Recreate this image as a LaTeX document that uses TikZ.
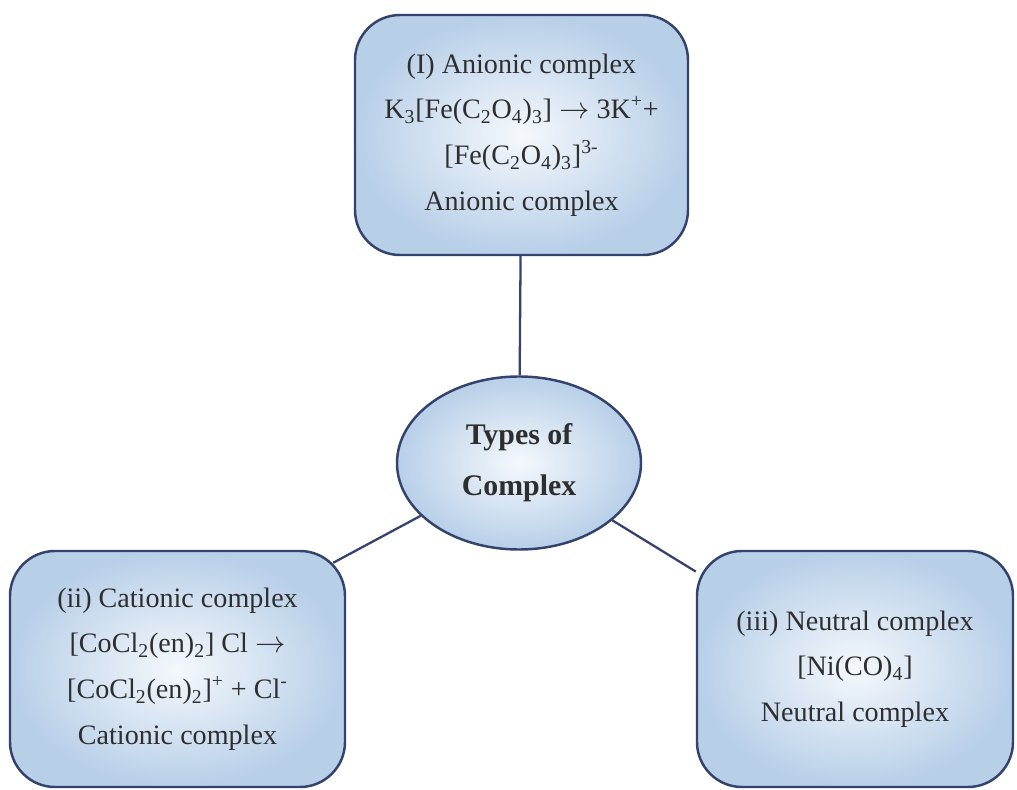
\documentclass[tikz,border=0pt]{standalone}
\usepackage{fontspec}
\setmainfont{Liberation Serif}
\usetikzlibrary{shapes.geometric, positioning}

\definecolor{edgeblue}{HTML}{34426E}
\definecolor{fillout}{HTML}{B8CFE8}
\definecolor{fillin}{HTML}{F4F8FC}
\definecolor{txtgray}{HTML}{2E2E2E}

\begin{document}
\begin{tikzpicture}[
    typebox/.style={draw=edgeblue, line width=1.4pt, rounded corners=0.9cm,
        shading=radial, inner color=fillin, outer color=fillout,
        align=center, text=txtgray, font=\fontsize{16}{26}\selectfont},
    hub/.style={ellipse, draw=edgeblue, line width=1.4pt, inner sep=0pt,
        shading=radial, inner color=fillin, outer color=fillout,
        align=center, text=txtgray, font=\bfseries\fontsize{17}{29}\selectfont,
        minimum width=4.88cm, minimum height=3.46cm},
    link/.style={draw=edgeblue, line width=1.3pt}
]
\useasboundingbox (0,0) rectangle (20.34,15.78);

% centre
\node[hub] (types) at (10.38,6.52) {Types of\\Complex};

% the three kinds
\node[typebox, minimum width=6.66cm, minimum height=4.8cm] (anion) at (10.43,13.08)
    {(I) Anionic complex\\
     K\textsubscript{3}{[}Fe(C\textsubscript{2}O\textsubscript{4})\textsubscript{3}{]} $\rightarrow$ 3K\textsuperscript{+}+\\
     {[}Fe(C\textsubscript{2}O\textsubscript{4})\textsubscript{3}{]}\textsuperscript{3-}\\
     Anionic complex};
\node[typebox, minimum width=6.7cm, minimum height=4.72cm] (cation) at (3.55,2.4)
    {(ii) Cationic complex\\
     {[}CoCl\textsubscript{2}(en)\textsubscript{2}{]} Cl $\rightarrow$\\
     {[}CoCl\textsubscript{2}(en)\textsubscript{2}{]}\textsuperscript{+} + Cl\textsuperscript{-}\\
     Cationic complex};
\node[typebox, minimum width=6.32cm, minimum height=4.72cm] (neutral) at (17.1,2.4)
    {(iii) Neutral complex\\
     {[}Ni(CO)\textsubscript{4}{]}\\
     Neutral complex};

% end of the left link sits on the rounded corner
\coordinate (cationtip) at ([shift={(-0.26,-0.26)}]cation.north east);

\draw[link] (anion) -- (types);
\draw[link] (types) -- (cationtip);
\draw[link] (types) -- (neutral);
\end{tikzpicture}
\end{document}
